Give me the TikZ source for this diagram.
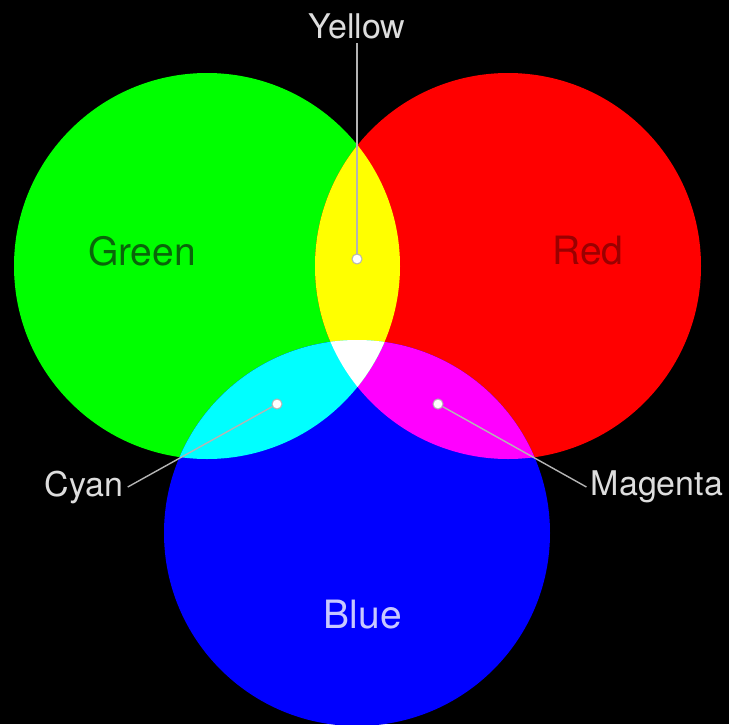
\documentclass[tikz,border=0pt]{standalone}
\usepackage{fontspec}
\setmainfont{TeX Gyre Heros}
\usetikzlibrary{calc}
\definecolor{pgreen}{HTML}{00FF00}
\definecolor{pred}{HTML}{FF0000}
\definecolor{pblue}{HTML}{0000FF}
\definecolor{pyellow}{HTML}{FFFF00}
\definecolor{pcyan}{HTML}{00FFFF}
\definecolor{pmagenta}{HTML}{FF00FF}
\definecolor{greentext}{HTML}{0A650A}
\definecolor{redtext}{HTML}{9A0000}
\definecolor{bluetext}{HTML}{C8C8FF}
\definecolor{outtext}{HTML}{DDDDDD}
\definecolor{leadline}{HTML}{B4B4B4}
\tikzset{
  lbl/.style={font=\fontsize{19.5}{22}\selectfont, inner sep=2pt},
  outlbl/.style={font=\fontsize{17}{20}\selectfont, inner sep=2pt, text=outtext},
  mixdot/.style={circle, fill=white, draw=leadline, line width=0.5pt,
                 minimum size=5pt, inner sep=0pt},
  leader/.style={draw=leadline, line width=0.7pt},
}
\def\rad{96.5pt}

\begin{document}
\begin{tikzpicture}[x=0.5pt, y=-0.5pt]

% Canvas in pixel units, y running down
\fill[black] (0,0) rectangle (729,724);
\useasboundingbox (0,0) rectangle (729,724);

% Circle centres
\coordinate (cg) at (207,266);
\coordinate (cr) at (508,266);
\coordinate (cb) at (357,533);

% Primaries
\fill[pgreen] (cg) circle[radius=\rad];
\fill[pred]   (cr) circle[radius=\rad];
\fill[pblue]  (cb) circle[radius=\rad];

% Secondaries: red/blue first, the green overlaps paint over it
\begin{scope}
  \clip (cr) circle[radius=\rad];
  \fill[pmagenta] (cb) circle[radius=\rad];
\end{scope}
\begin{scope}
  \clip (cg) circle[radius=\rad];
  \fill[pyellow] (cr) circle[radius=\rad];
  \fill[pcyan]   (cb) circle[radius=\rad];
  \clip (cr) circle[radius=\rad];
  \fill[white]   (cb) circle[radius=\rad];
\end{scope}

% Labels inside the circles
\node[lbl, text=greentext] (green) at (142,251) {Green};
\node[lbl, text=redtext]   (red)   at (588,251) {Red};
\node[lbl, text=bluetext]  (blue)  at (363,615) {Blue};

% Labels outside
\node[outlbl] (yellow)  at (357,26)  {Yellow};
\node[outlbl] (cyan)    at (84,487)  {Cyan};
\node[outlbl] (magenta) at (657,487) {Magenta};

% Markers and leaders
\node[mixdot] (ydot) at (357,259) {};
\node[mixdot] (cdot) at (277,404) {};
\node[mixdot] (mdot) at (438,404) {};
\draw[leader] (yellow.south) -- (ydot);
\draw[leader] (cdot) -- (cyan.east);
\draw[leader] (mdot) -- (magenta.west);

\end{tikzpicture}
\end{document}
